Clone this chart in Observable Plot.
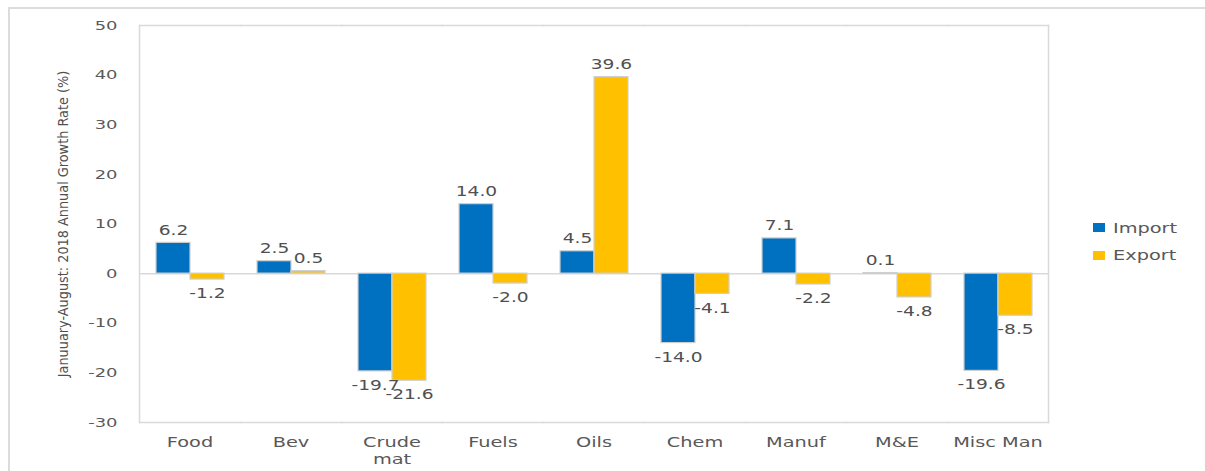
<!DOCTYPE html>
<html>
<head>
<meta charset="utf-8">
<script src="https://cdn.jsdelivr.net/npm/d3@7"></script>
<script src="https://cdn.jsdelivr.net/npm/@observablehq/plot@0.6"></script>
<style>
  html, body { margin: 0; padding: 0; background: #fff; }
  #chart { position: relative; width: 1205px; height: 471px; overflow: hidden; }
  #outline {
    position: absolute; left: 8px; top: 7px; right: -20px; bottom: -20px;
    border-top: 2px solid #dcdcdc; border-left: 2px solid #dcdcdc;
  }
  #chart > svg { position: absolute; left: 0; top: 0; }
  #key { position: absolute; left: 1093px; top: 214px; }
  #key .key-swatches { font-family: "DejaVu Sans", sans-serif; font-size: 14px; color: #595959; margin: 0; }
  #key .key-swatch { display: flex; align-items: center; height: 27.5px; padding: 0; }
  #key .key-swatch svg { margin-right: 8px; flex-shrink: 0; }
  #key .key-swatch > div { overflow: visible; transform: scaleX(1.38); transform-origin: left center; }
</style>
</head>
<body>
<div id="chart"><div id="outline"></div></div>
<script>
// Commodity groups, January–August 2018 growth rates (%)
const categories = ["Food", "Bev", "Crude\nmat", "Fuels", "Oils", "Chem", "Manuf", "M&E", "Misc Man"];
const importGrowth = [6.2, 2.5, -19.7, 14.0, 4.5, -14.0, 7.1, 0.1, -19.6];
const exportGrowth = [-1.2, 0.5, -21.6, -2.0, 39.6, -4.1, -2.2, -4.8, -8.5];
const seriesNames = ["Import", "Export"];
const seriesColors = ["#0070C0", "#FFC000"];
const yTicks = [-30, -20, -10, 0, 10, 20, 30, 40, 50];
const yTitle = "Januuary-August: 2018 Annual Growth Rate (%)";

// Long-format rows for grouped bars (fx = commodity, x = series)
const rows = categories.flatMap((c, i) => [
  {category: c, series: seriesNames[0], value: importGrowth[i]},
  {category: c, series: seriesNames[1], value: exportGrowth[i]}
]);

const grid = "#d9d9d9";
const ink = "#595959";

const chart = Plot.plot({
  width: 1205,
  height: 471,
  marginLeft: 136,
  marginRight: 155,
  marginTop: 25,
  marginBottom: 49,
  style: {fontFamily: "'DejaVu Sans', sans-serif", color: ink, background: "transparent", overflow: "visible"},
  fx: {domain: categories, padding: 0, label: null},
  x: {domain: seriesNames, paddingInner: 0, paddingOuter: 0.45, axis: null},
  y: {domain: [-30, 50], label: null},
  color: {domain: seriesNames, range: seriesColors},
  marks: [
    Plot.ruleY([0], {stroke: grid, strokeWidth: 1.5}),
    Plot.barY(rows, {fx: "category", x: "series", y: "value", fill: "series", stroke: "#cfcfcf", strokeWidth: 1.2}),
    Plot.text(rows.filter((d) => d.value >= 0), {
      fx: "category", x: "series", y: "value", text: (d) => d.value.toFixed(1),
      lineAnchor: "bottom", dy: -8, fontSize: 13.5, fill: "#505050"
    }),
    Plot.text(rows.filter((d) => d.value < 0), {
      fx: "category", x: "series", y: "value", text: (d) => d.value.toFixed(1),
      lineAnchor: "top", dy: 9, fontSize: 13.5, fill: "#505050"
    }),
    // plot-area border, drawn edge by edge so facet seams stay open
    Plot.frame({anchor: "top", stroke: grid, strokeWidth: 1.5}),
    Plot.frame({anchor: "bottom", stroke: grid, strokeWidth: 1.5}),
    Plot.frame({anchor: "left", stroke: grid, strokeWidth: 1.5, facetAnchor: "left"}),
    Plot.frame({anchor: "right", stroke: grid, strokeWidth: 1.5, facetAnchor: "right"}),
    Plot.axisY({
      ticks: yTicks, tickFormat: (d) => `${d}`, tickSize: 0, tickPadding: 22,
      label: null, fontSize: 13, facetAnchor: "left"
    }),
    Plot.axisFx({anchor: "bottom", tickSize: 0, tickPadding: 13, label: null, fontSize: 14, lineHeight: 1.2}),
    Plot.text([yTitle], {
      frameAnchor: "left", dx: -76, dy: 0, rotate: -90, facetAnchor: "left",
      textAnchor: "middle", lineAnchor: "middle",
      fontSize: 14.3, fontFamily: "'DejaVu Sans Condensed', 'DejaVu Sans', sans-serif",
      fontStretch: "condensed", fill: "#505050"
    })
  ]
});

const host = document.getElementById("chart");
host.appendChild(chart);

// Broad lettering: widen each horizontal label about its own anchor x
const S = 1.38;
chart.querySelectorAll("text").forEach((t) => {
  const base = t.getAttribute("transform") || "";
  if (base.includes("rotate")) return;
  const xa = t.getAttribute("x");
  const x0 = xa && !/[a-z%]/i.test(xa) ? +xa : 0;
  const m = t.transform.baseVal.numberOfItems ? t.transform.baseVal.consolidate().matrix : null;
  const ax = m ? m.a * x0 + m.e : x0;
  t.setAttribute("transform", `translate(${ax},0) scale(${S},1) translate(${-ax},0) ${base}`);
});

const key = Plot.legend({
  color: {domain: seriesNames, range: seriesColors},
  legend: "swatches",
  columns: 1,
  swatchWidth: 12,
  swatchHeight: 9,
  className: "key"
});
const keyBox = document.createElement("div");
keyBox.id = "key";
keyBox.appendChild(key);
host.appendChild(keyBox);
</script>
</body>
</html>
